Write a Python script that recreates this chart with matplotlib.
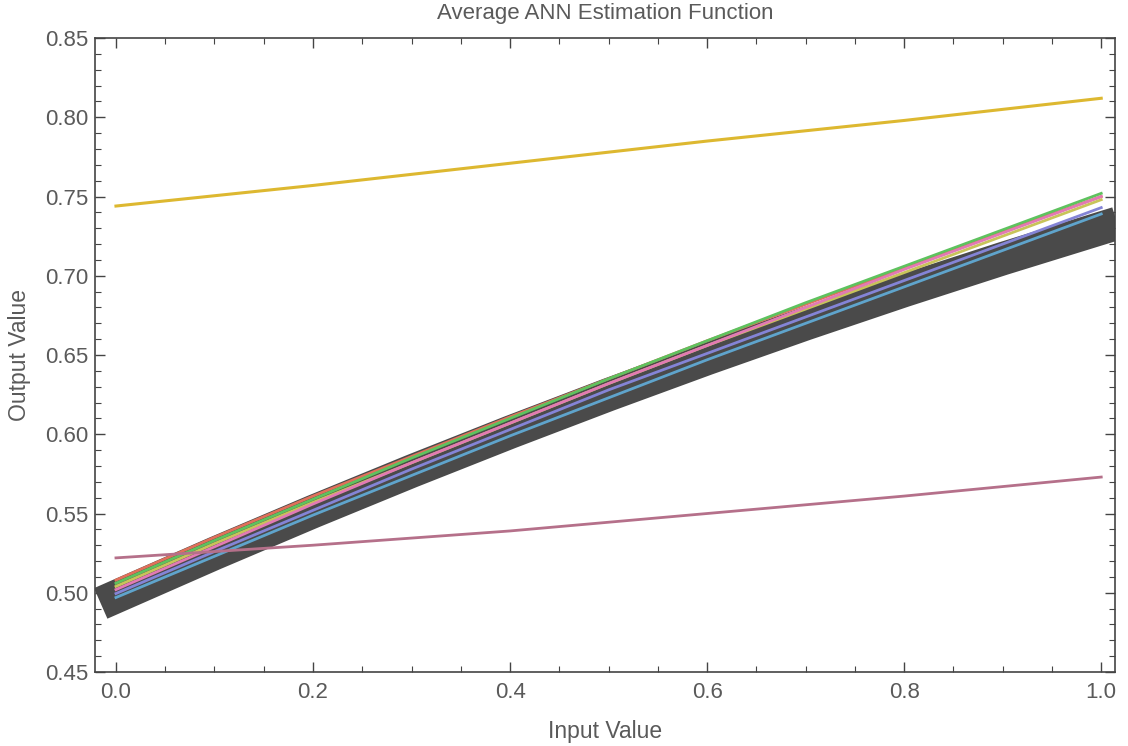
import matplotlib
matplotlib.use("Agg")
from matplotlib import pyplot as plt
from matplotlib.ticker import MultipleLocator

plt.rcParams['font.family'] = ['Liberation Sans', 'DejaVu Sans']

# input grid
x = [0.0, 0.1, 0.2, 0.3, 0.4, 0.5, 0.6, 0.7, 0.8, 0.9, 1.0]

# average estimation function (thick gray)
avg = [0.4975, 0.5248, 0.5512, 0.5767, 0.6013, 0.6250, 0.6478, 0.6697, 0.6907, 0.7108, 0.7300]

# individual networks
net1 = [0.508, 0.535, 0.561, 0.586, 0.611, 0.635, 0.659, 0.682, 0.705, 0.728, 0.750]
net2 = [0.506, 0.533, 0.559, 0.585, 0.610, 0.635, 0.659, 0.683, 0.706, 0.729, 0.752]
net3 = [0.504, 0.531, 0.557, 0.582, 0.607, 0.632, 0.656, 0.679, 0.702, 0.725, 0.748]
net4 = [0.502, 0.529, 0.556, 0.582, 0.607, 0.632, 0.656, 0.680, 0.704, 0.727, 0.750]
net5 = [0.4995, 0.526, 0.552, 0.578, 0.603, 0.628, 0.651, 0.674, 0.697, 0.720, 0.743]
net6 = [0.497, 0.523, 0.549, 0.574, 0.599, 0.623, 0.647, 0.670, 0.693, 0.716, 0.739]
nets = [net1, net2, net3, net4, net5, net6]
net_colors = ["#E0705A", "#5EC25E", "#C8C45A", "#E27AB4", "#8484D6", "#5FA4CC"]

upper = [0.744, 0.7505, 0.757, 0.764, 0.771, 0.778, 0.785, 0.7915, 0.798, 0.805, 0.812]
lower = [0.522, 0.526, 0.530, 0.5345, 0.539, 0.5445, 0.550, 0.5555, 0.561, 0.567, 0.573]

fig = plt.figure(figsize=(11.28, 7.46), dpi=100)
ax = fig.add_axes([0.0842, 0.0992, 0.9043, 0.8498])

ax.plot(x, avg, color="#4a4a4a", lw=24, solid_capstyle="projecting",
        solid_joinstyle="round", zorder=2)
for vals, c in zip(nets, net_colors):
    ax.plot(x, vals, color=c, lw=2, zorder=3)
ax.plot(x, upper, color="#DDB830", lw=2.2, zorder=3)
ax.plot(x, lower, color="#B5708A", lw=2.0, zorder=3)

ax.set_xlim(-0.0213, 1.014)
ax.set_ylim(0.45, 0.85)
ax.xaxis.set_major_locator(MultipleLocator(0.2))
ax.xaxis.set_minor_locator(MultipleLocator(0.05))
ax.yaxis.set_major_locator(MultipleLocator(0.05))
ax.yaxis.set_minor_locator(MultipleLocator(0.01))
ax.xaxis.set_major_formatter(plt.FuncFormatter(lambda v, p: f"{v:.1f}"))
ax.yaxis.set_major_formatter(plt.FuncFormatter(lambda v, p: f"{v:.2f}"))

ax.tick_params(which="both", direction="in", top=True, right=True, color="#444444",
               labelcolor="#5a5a5a", labelsize=16)
ax.tick_params(which="major", length=7, width=1)
ax.tick_params(which="minor", length=4, width=0.8)
ax.tick_params(axis="x", pad=7)
ax.tick_params(axis="y", pad=5)
for s in ax.spines.values():
    s.set_color("#444444")
    s.set_linewidth(1.2)

fig.text(0.5364, 0.982, "Average ANN Estimation Function", color="#5a5a5a",
         fontsize=16, ha="center", va="center")
fig.text(0.5364, 0.020, "Input Value", color="#5a5a5a", fontsize=16.5,
         ha="center", va="center")
fig.text(0.017, 0.524, "Output Value", color="#5a5a5a", fontsize=16.5,
         ha="center", va="center", rotation=90)

fig.savefig("out.png", dpi=100)
